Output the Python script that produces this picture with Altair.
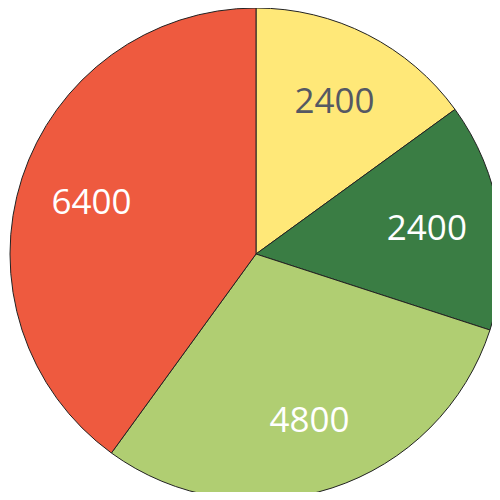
import altair as alt
import pandas as pd

categories = ["A", "B", "C", "D"]
values = [2400, 2400, 4800, 6400]
fill_colors = ["#FFE878", "#3A7D44", "#B0CE72", "#EE5A3F"]
text_colors = ["#555863", "#FFFFFF", "#FFFFFF", "#FFFFFF"]

df = pd.DataFrame({
    "cat": categories,
    "value": values,
    "idx": list(range(len(categories))),
    "fill": fill_colors,
    "tcol": text_colors,
})

cx, cy = 248, 246

base = alt.Chart(df).encode(
    theta=alt.Theta("value:Q", stack=True),
    order=alt.Order("idx:Q"),
    x=alt.value(cx),
    y=alt.value(cy),
)

arcs = base.mark_arc(outerRadius=246, stroke="#222222", strokeWidth=1).encode(
    color=alt.Color("fill:N", scale=None)
)

labels = base.mark_text(radius=173, font="Open Sans", fontSize=35, dy=2).encode(
    text=alt.Text("value:Q", format="d"),
    color=alt.Color("tcol:N", scale=None),
)

chart = (arcs + labels).properties(
    width=484, height=484, autosize=alt.AutoSizeParams(type="none"), padding=0
).configure_view(stroke=None)

chart.save("out.html", embed_options={"renderer": "svg", "actions": False})
